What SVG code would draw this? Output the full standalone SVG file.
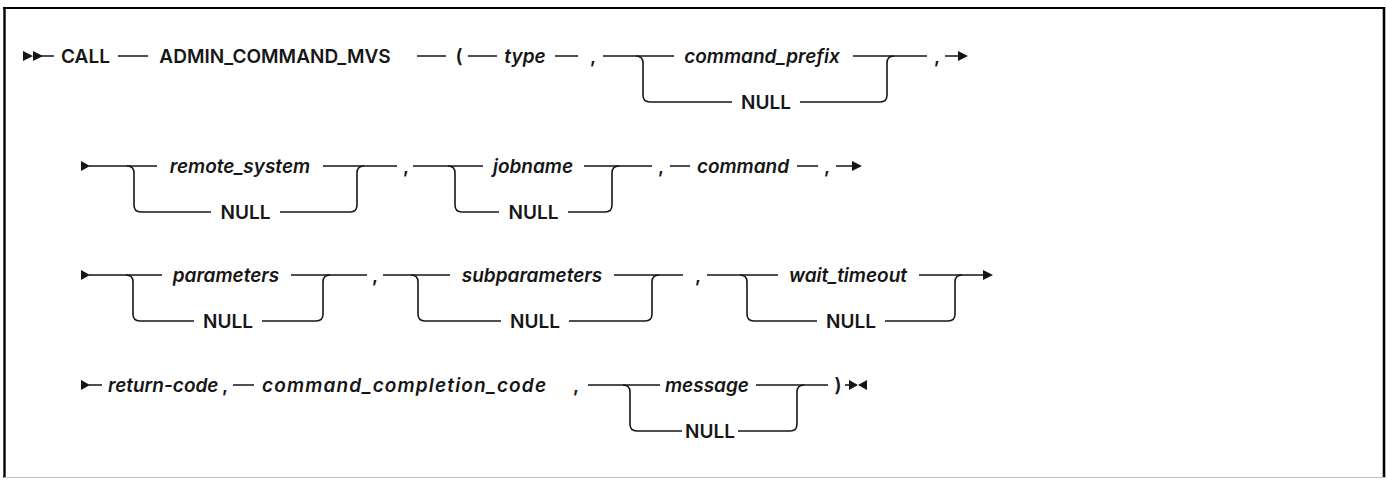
<svg xmlns="http://www.w3.org/2000/svg" width="1387" height="481" viewBox="0 0 1387 481">
<style>
.t{font-family:Inter,"Noto Sans","Liberation Sans",sans-serif;font-size:19px;fill:#161616;font-weight:600;text-anchor:middle}
.v{font-style:italic}
.s{text-anchor:start}
.ln{fill:none;stroke:#161616;stroke-width:1.6}
.ah{fill:#161616}
</style>
<rect x="0" y="0" width="1387" height="481" fill="#ffffff"/>
<g id="frame">
<line x1="3" y1="8" x2="1385" y2="8" stroke="#000" stroke-width="2.2"/>
<line x1="4.5" y1="7" x2="4.5" y2="478" stroke="#000" stroke-width="2.4"/>
<line x1="1384" y1="7" x2="1384" y2="478" stroke="#000" stroke-width="2.6"/>
<line x1="4" y1="477.5" x2="1385" y2="477.5" stroke="#c0c0c0" stroke-width="1"/>
</g>
<g id="connectors">
<!-- row 1 -->
<path class="ah" d="M23,51 L33,56 L23,61 Z M33,51 L43,56 L33,61 Z"/>
<path class="ln" d="M41,56 H54 M118,56 H148 M417,56 H446 M468,56 H497 M555,56 H578 M603,56 H674 M853,56 H927 M945,56 H960"/>
<path class="ah" d="M958,51 L968,56 L958,61 Z"/>
<path class="ln" d="M636,56 Q643,56 643,63 V95 Q643,102 650,102 H732 M800,102 H880 Q887,102 887,95 V63 Q887,56 894,56"/>
<!-- row 2 -->
<path class="ah" d="M81,161 L90,166 L81,171 Z"/>
<path class="ln" d="M89,166 H157 M323,166 H397 M413,166 H483 M584,166 H652 M670,166 H690 M797,166 H818 M836,166 H853"/>
<path class="ln" d="M127,166 Q134,166 134,173 V205 Q134,212 141,212 H211 M280,212 H350 Q357,212 357,205 V173 Q357,166 364,166"/>
<path class="ln" d="M448,166 Q455,166 455,173 V205 Q455,212 462,212 H499 M568,212 H605 Q612,212 612,205 V173 Q612,166 619,166"/>
<path class="ah" d="M852,161 L862,166 L852,171 Z"/>
<!-- row 3 -->
<path class="ah" d="M81,270 L90,275 L81,280 Z"/>
<path class="ln" d="M89,275 H162 M291,275 H367 M383,275 H450 M614,275 H683 M707,275 H778 M919,275 H984"/>
<path class="ln" d="M126,275 Q133,275 133,282 V314 Q133,321 140,321 H194 M262,321 H316 Q323,321 323,314 V282 Q323,275 330,275"/>
<path class="ln" d="M411,275 Q418,275 418,282 V314 Q418,321 425,321 H501 M569,321 H645 Q652,321 652,314 V282 Q652,275 659,275"/>
<path class="ln" d="M740,275 Q747,275 747,282 V314 Q747,321 754,321 H817 M885,321 H948 Q955,321 955,314 V282 Q955,275 962,275"/>
<path class="ah" d="M983,270 L993,275 L983,280 Z"/>
<!-- row 4 -->
<path class="ah" d="M81,380 L90,385 L81,390 Z"/>
<path class="ln" d="M89,385 H102 M233,385 H254 M588,385 H660 M756,385 H828 M845,385 H852"/>
<path class="ln" d="M623,385 Q630,385 630,392 V424 Q630,431 637,431 H682 M738,431 H790 Q797,431 797,424 V392 Q797,385 804,385"/>
<path class="ah" d="M849,380 L858,385 L849,390 Z M867,380 L858,385 L867,390 Z"/>
</g>
<g id="n-call"><text class="t" x="85.5" y="63">CALL</text></g>
<g id="n-proc"><text class="t" x="275" y="63">ADMIN_COMMAND_MVS</text></g>
<g id="n-lparen"><text class="t" x="459" y="63">(</text></g>
<g id="n-type"><text class="t v" x="525" y="63">type</text></g>
<g id="n-comma1"><text class="t" x="593" y="63">,</text></g>
<g id="n-cmdprefix"><text class="t v" x="762" y="63">command_prefix</text></g>
<g id="n-null1"><text class="t" x="766" y="109">NULL</text></g>
<g id="n-comma2"><text class="t" x="937" y="63">,</text></g>
<g id="n-remote"><text class="t v" x="240" y="173">remote_system</text></g>
<g id="n-null2"><text class="t" x="245.5" y="219">NULL</text></g>
<g id="n-comma3"><text class="t" x="406" y="173">,</text></g>
<g id="n-jobname"><text class="t v" x="533" y="173">jobname</text></g>
<g id="n-null3"><text class="t" x="533.5" y="219">NULL</text></g>
<g id="n-comma4"><text class="t" x="661" y="173">,</text></g>
<g id="n-command"><text class="t v" x="743" y="173">command</text></g>
<g id="n-comma5"><text class="t" x="827" y="173">,</text></g>
<g id="n-parameters"><text class="t v" x="226" y="282">parameters</text></g>
<g id="n-null4"><text class="t" x="228" y="328">NULL</text></g>
<g id="n-comma6"><text class="t" x="375" y="282">,</text></g>
<g id="n-subparameters"><text class="t v" x="532" y="282">subparameters</text></g>
<g id="n-null5"><text class="t" x="535" y="328">NULL</text></g>
<g id="n-comma7"><text class="t" x="698" y="282">,</text></g>
<g id="n-wait"><text class="t v" x="848" y="282">wait_timeout</text></g>
<g id="n-null6"><text class="t" x="851" y="328">NULL</text></g>
<g id="n-retcode"><text class="t v s" x="108" y="392">return-code</text></g>
<g id="n-comma8"><text class="t" x="225" y="392">,</text></g>
<g id="n-ccc"><text class="t v s" x="262" y="392" textLength="284" lengthAdjust="spacing">command_completion_code</text></g>
<g id="n-comma9"><text class="t" x="576" y="392">,</text></g>
<g id="n-message"><text class="t v" x="707" y="392">message</text></g>
<g id="n-null7"><text class="t" x="710" y="438">NULL</text></g>
<g id="n-rparen"><text class="t" x="838" y="392">)</text></g>
</svg>
